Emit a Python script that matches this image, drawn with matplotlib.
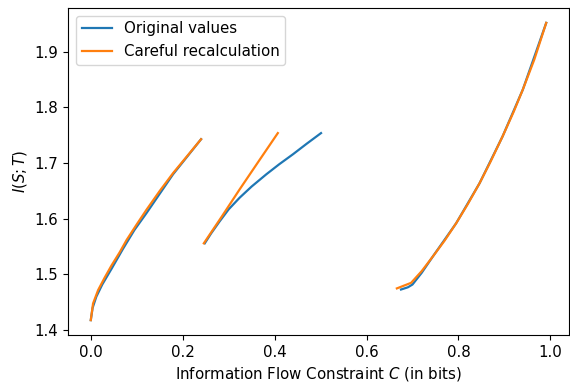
import matplotlib
matplotlib.use("Agg")
import matplotlib.pyplot as plt

plt.rcParams["font.size"] = 10.8

# values, three branches per series
orig_c1 = [0.0, 0.004, 0.012, 0.025, 0.045, 0.07, 0.095, 0.121, 0.15, 0.179, 0.21, 0.24]
orig_i1 = [1.418, 1.440, 1.460, 1.482, 1.510, 1.546, 1.580, 1.610, 1.645, 1.680, 1.712, 1.743]
orig_c2 = [0.248, 0.262, 0.28, 0.30, 0.324, 0.35, 0.382, 0.41, 0.44, 0.47, 0.501]
orig_i2 = [1.556, 1.574, 1.595, 1.617, 1.638, 1.658, 1.680, 1.698, 1.716, 1.735, 1.754]
orig_c3 = [0.675, 0.69, 0.70, 0.72, 0.744, 0.795, 0.846, 0.896, 0.94, 0.991]
orig_i3 = [1.473, 1.477, 1.482, 1.503, 1.532, 1.592, 1.664, 1.748, 1.832, 1.952]

new_c1 = [0.0, 0.005, 0.016, 0.03, 0.045, 0.063, 0.078, 0.1, 0.121, 0.15, 0.179, 0.21, 0.24]
new_i1 = [1.418, 1.448, 1.472, 1.494, 1.516, 1.540, 1.562, 1.590, 1.616, 1.650, 1.682, 1.713, 1.743]
new_c2 = [0.246, 0.285, 0.324, 0.365, 0.407]
new_i2 = [1.556, 1.604, 1.653, 1.703, 1.754]
new_c3 = [0.666, 0.697, 0.72, 0.744, 0.77, 0.795, 0.82, 0.846, 0.87, 0.896, 0.92, 0.94, 0.965, 0.991]
new_i3 = [1.475, 1.485, 1.506, 1.532, 1.561, 1.592, 1.626, 1.664, 1.703, 1.748, 1.792, 1.832, 1.886, 1.952]

fig = plt.figure(figsize=(5.7, 3.86), dpi=100)
ax = fig.add_subplot(111)
fig.subplots_adjust(left=68/570, right=569/570, top=1-8/386, bottom=1-335/386)

blue = "#1f77b4"
orange = "#ff7f0e"

ax.plot(orig_c1, orig_i1, color=blue, lw=1.6, label="Original values")
ax.plot(orig_c2, orig_i2, color=blue, lw=1.6)
ax.plot(orig_c3, orig_i3, color=blue, lw=1.6)
ax.plot(new_c1, new_i1, color=orange, lw=1.6, label="Careful recalculation")
ax.plot(new_c2, new_i2, color=orange, lw=1.6)
ax.plot(new_c3, new_i3, color=orange, lw=1.6)

ax.set_xlabel("Information Flow Constraint $C$ (in bits)")
ax.set_ylabel("$I(S;T)$")
ax.set_yticks([1.4, 1.5, 1.6, 1.7, 1.8, 1.9])
ax.set_xticks([0.0, 0.2, 0.4, 0.6, 0.8, 1.0])
ax.legend(loc="upper left")

fig.savefig("out.png", dpi=100)
